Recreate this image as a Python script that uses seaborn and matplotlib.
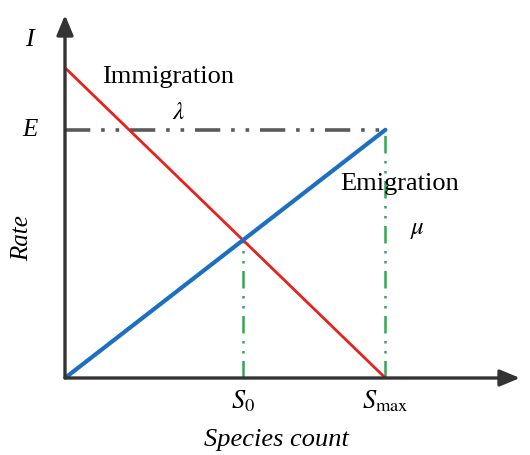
import numpy as np
import pandas as pd
import seaborn as sns
import matplotlib.pyplot as plt

# migration model values (normalised units)
I_max = 1.0
E_max = 0.8
S_max = 1.0
x_end = 1.42
y_end = 1.17

species = [0.0, S_max]
immigration = [I_max, 0.0]
emigration = [0.0, E_max]
S0 = I_max * S_max / (I_max + E_max)
rate_S0 = E_max * S0 / S_max

df = pd.DataFrame({'species': species * 2,
                   'rate': immigration + emigration,
                   'curve': ['Immigration'] * 2 + ['Emigration'] * 2})

sns.set_style('white')
plt.rcParams['font.family'] = ['Liberation Serif', 'DejaVu Serif']
plt.rcParams['mathtext.fontset'] = 'stix'
plt.rcParams['text.color'] = 'black'

fig = plt.figure(figsize=(5.3, 4.55), dpi=100)
ax = fig.add_axes([65 / 530, 77 / 455, 455 / 530, 363 / 455])

dash = (0, (7, 3, 1, 3, 1, 3))
ax.plot([0, S_max], [E_max, E_max], color='#5a5a5a', lw=2.6, linestyle=dash)
ax.plot([S0, S0], [0, rate_S0], color='#2eaa55', lw=1.8, linestyle=dash)
ax.plot([S_max, S_max], [0, E_max], color='#2eaa55', lw=1.8, linestyle=dash)

sns.lineplot(data=df, x='species', y='rate', hue='curve',
             palette={'Immigration': '#e8211d', 'Emigration': '#1c6fc2'},
             legend=False, ax=ax, zorder=3)
ax.lines[-2].set_linewidth(2.0)
ax.lines[-1].set_linewidth(3.0)

ax.set_xlim(0, x_end)
ax.set_ylim(0, y_end)
for s in ax.spines.values():
    s.set_visible(False)
ax.set_xticks([])
ax.set_yticks([])
ax.set_xlabel('')
ax.set_ylabel('')

arrow = dict(arrowstyle='-|>,head_width=0.5,head_length=1.2', color='#333333', lw=2.4,
             shrinkA=0, shrinkB=0)
ax.annotate('', xy=(x_end, 0), xytext=(0, 0), arrowprops=arrow, annotation_clip=False)
ax.annotate('', xy=(0, y_end), xytext=(0, 0), arrowprops=arrow, annotation_clip=False)

ax.text(-0.11, 1.09, 'I', fontsize=19, style='italic', ha='center', va='center')
ax.text(-0.11, E_max, 'E', fontsize=18, style='italic', ha='center', va='center')
ax.text(-0.135, 0.45, 'Rate', fontsize=18, style='italic', rotation=90, ha='center', va='center')
ax.text(S0, -0.075, r'$S_0$', fontsize=19, ha='center', va='center')
ax.text(S_max, -0.075, r'$S_{\max}$', fontsize=19, ha='center', va='center')
ax.text(0.66, -0.2, 'Species count', fontsize=19, style='italic', ha='center', va='center')
ax.text(0.115, 0.97, 'Immigration', fontsize=19, ha='left', va='center')
ax.text(0.355, 0.855, r'$\lambda$', fontsize=18, ha='center', va='center')
ax.text(0.86, 0.625, 'Emigration', fontsize=19, ha='left', va='center')
ax.text(1.10, 0.477, r'$\mu$', fontsize=18, ha='center', va='center')

fig.savefig('out.png', dpi=100)
